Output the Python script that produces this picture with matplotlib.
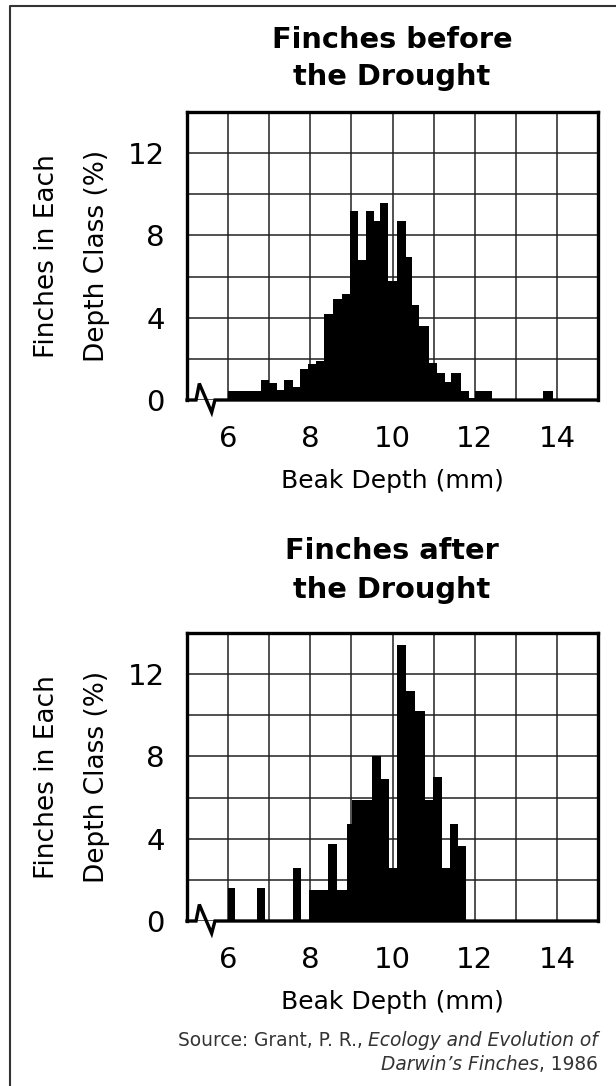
import numpy as np
import matplotlib
matplotlib.use("Agg")
import matplotlib.pyplot as plt
from matplotlib.lines import Line2D

# beak depth class edges (mm) and share of finches (%) in each class
before_edges = [6.0, 6.8, 7.0, 7.2, 7.35, 7.57, 7.75, 7.94, 8.14, 8.34,
                8.56, 8.77, 8.96, 9.17, 9.35, 9.55, 9.69, 9.89, 10.12, 10.33,
                10.48, 10.65, 10.88, 11.08, 11.27, 11.43, 11.67, 11.85, 12.01, 12.41,
                13.66, 13.9]
before_pct = [0.45, 0.97, 0.85, 0.47, 0.97, 0.65, 1.5, 1.77, 1.88, 4.18,
              4.93, 5.17, 9.2, 6.8, 9.2, 8.7, 9.57, 5.8, 8.7, 6.95,
              4.6, 3.6, 1.82, 1.33, 0.88, 1.3, 0.45, 0.12, 0.45, 0.0,
              0.45]

after_edges = [6.0, 6.16, 6.71, 6.9, 7.57, 7.77, 7.98, 8.44, 8.65, 8.89,
               9.02, 9.49, 9.71, 9.91, 10.11, 10.33, 10.54, 10.8, 10.98, 11.2,
               11.4, 11.59, 11.78]
after_pct = [1.6, 0.0, 1.6, 0.0, 2.6, 0.0, 1.5, 3.75, 1.5, 4.7,
             5.9, 8.0, 6.9, 2.6, 13.4, 11.2, 10.2, 5.9, 7.0, 2.56,
             4.7, 3.63]

x_ticks = [6, 8, 10, 12, 14]
y_ticks = [0, 4, 8, 12]

W, H = 616, 1086


def fx(x):
    return x / W


def fy(y):
    return 1 - y / H


fig = plt.figure(figsize=(W / 100, H / 100), dpi=100)
fig.patch.set_facecolor("white")

# outer border (top + left)
fig.add_artist(Line2D([fx(10), fx(10), fx(616)], [0, fy(6), fy(6)],
                      color="#333333", lw=1.5))


def draw_panel(top_px, edges, pct, title1, title2, t_base1, t_base2):
    bottom_px = top_px + 288
    ax = fig.add_axes([fx(187), fy(bottom_px), 411 / W, 288 / H])
    ax.set_xlim(5, 15)
    ax.set_ylim(0, 14)
    ax.set_xticks(x_ticks)
    ax.set_xticks(np.arange(5, 16, 1), minor=True)
    ax.set_yticks(y_ticks)
    ax.set_yticks([2, 6, 10], minor=True)
    ax.grid(which="both", color="#222222", lw=1.1)
    ax.set_axisbelow(True)
    ax.tick_params(which="both", length=0, labelsize=21, colors="black")
    ax.tick_params(axis="x", pad=18)
    ax.tick_params(axis="y", pad=16)

    ax.stairs(pct, edges, fill=True, color="black", zorder=3)

    for side in ["left", "top", "right"]:
        ax.spines[side].set_linewidth(2.4)
        ax.spines[side].set_zorder(4)
    ax.spines["bottom"].set_visible(False)
    # bottom axis with the break mark
    ax.plot([5, 5.22, 5.30, 5.60, 5.68, 15], [0, 0, 0.8, -0.6, 0, 0],
            color="black", lw=2.4, clip_on=False, zorder=5,
            solid_joinstyle="miter")

    fig.text(fx(392), fy(t_base1), title1, ha="center", va="baseline",
             fontsize=20.8, fontweight="bold")
    fig.text(fx(392), fy(t_base2), title2, ha="center", va="baseline",
             fontsize=20.8, fontweight="bold")
    fig.text(fx(392), fy(bottom_px + 88), "Beak Depth (mm)", ha="center",
             va="baseline", fontsize=18)
    mid = (top_px + bottom_px) / 2
    fig.text(fx(47), fy(mid), "Finches in Each", rotation=90,
             ha="center", va="center", fontsize=19)
    fig.text(fx(97), fy(mid), "Depth Class (%)", rotation=90,
             ha="center", va="center", fontsize=19)
    return ax


draw_panel(112, before_edges, before_pct, "Finches before", "the Drought", 48, 85)
draw_panel(633, after_edges, after_pct, "Finches after", "the Drought", 559, 598)

# source note, mixed roman / italic, right aligned
renderer = fig.canvas.get_renderer()


def right_line(y_px, parts):
    x = fx(598)
    for txt, style in reversed(parts):
        t = fig.text(x, fy(y_px), txt, ha="right", va="baseline",
                     fontsize=13.4, style=style, color="#333333")
        bb = t.get_window_extent(renderer)
        x = bb.x0 / fig.bbox.width


right_line(1046, [("Source: Grant, P. R., ", "normal"),
                  ("Ecology and Evolution of", "italic")])
right_line(1070, [("Darwin\u2019s Finches", "italic"), (", 1986", "normal")])

fig.savefig("out.png", dpi=100)
